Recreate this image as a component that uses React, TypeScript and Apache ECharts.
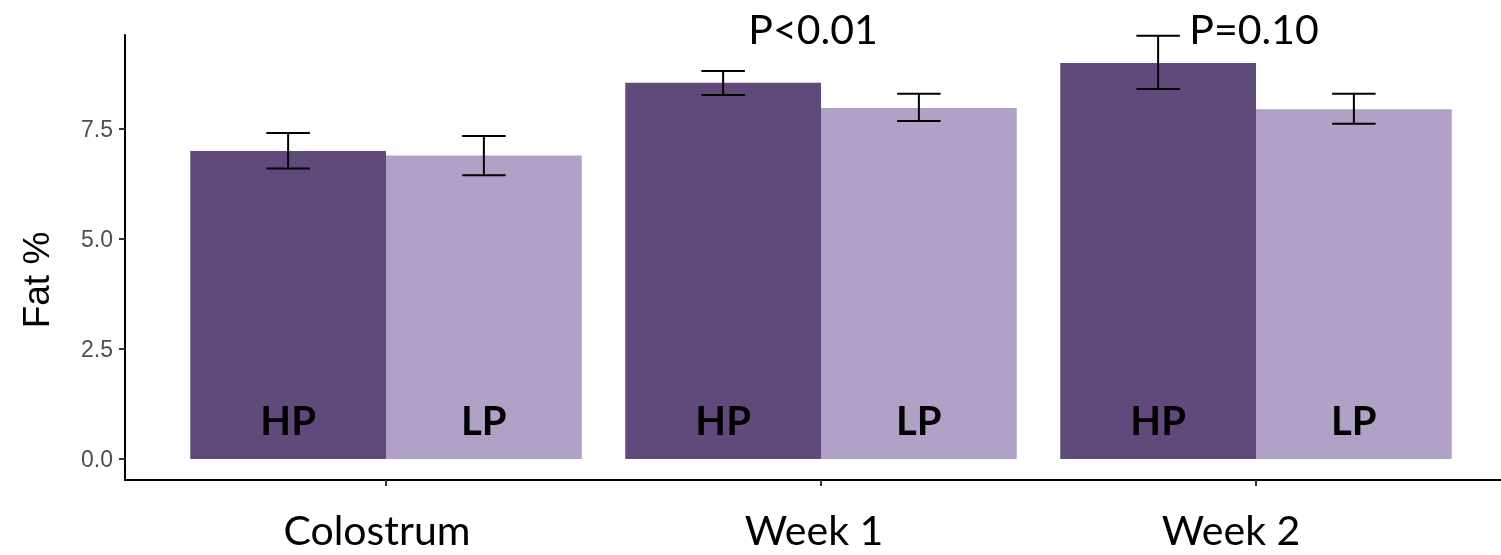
import React, { useEffect, useRef } from 'react';
import * as echarts from 'echarts';

const categories = ['Colostrum', 'Week 1', 'Week 2'];
const groupNames = ['HP', 'LP'];
const hpMean = [7.0, 8.55, 9.0];
const lpMean = [6.9, 7.98, 7.95];
const hpLower = [6.6, 8.27, 8.41];
const hpUpper = [7.41, 8.82, 9.62];
const lpLower = [6.45, 7.68, 7.62];
const lpUpper = [7.34, 8.3, 8.3];
const yTicks = [0, 2.5, 5.0, 7.5];
const catTicks = [0, 1, 2];
const pLabels = ['P<0.01', 'P=0.10'];

const HP_COLOR = '#604A7B';
const LP_COLOR = '#B2A1C7';
const CAL = 'Lato, "Open Sans", sans-serif';
const ARIAL = '"Liberation Sans", Arial, sans-serif';

function barRender(side: number, label: string) {
  return (params: any, api: any) => {
    const x = api.value(0);
    const v = api.value(1);
    const left = side < 0 ? x - 0.45 : x;
    const right = side < 0 ? x : x + 0.45;
    const p0 = api.coord([left, v]);
    const p1 = api.coord([right, 0]);
    return {
      type: 'group',
      children: [
        {
          type: 'rect',
          shape: { x: p0[0], y: p0[1], width: p1[0] - p0[0], height: p1[1] - p0[1] },
          style: { fill: api.visual('color') },
        },
        {
          type: 'text',
          style: {
            text: label,
            x: (p0[0] + p1[0]) / 2,
            y: p1[1] - 39,
            fill: '#000',
            fontSize: 40,
            fontWeight: 'bold',
            fontFamily: CAL,
            align: 'center',
            verticalAlign: 'middle',
          },
        },
      ],
    };
  };
}

function errRender(side: number) {
  return (params: any, api: any) => {
    const x = api.value(0) + side * 0.225;
    const lo = api.coord([x, api.value(1)]);
    const hi = api.coord([x, api.value(2)]);
    const half = api.size([0.05, 0])[0];
    const st = { stroke: '#000', lineWidth: 2 };
    return {
      type: 'group',
      children: [
        { type: 'line', shape: { x1: hi[0], y1: hi[1], x2: lo[0], y2: lo[1] }, style: st },
        { type: 'line', shape: { x1: hi[0] - half, y1: hi[1], x2: hi[0] + half, y2: hi[1] }, style: st },
        { type: 'line', shape: { x1: lo[0] - half, y1: lo[1], x2: lo[0] + half, y2: lo[1] }, style: st },
      ],
    };
  };
}

export default function App() {
  const ref = useRef<HTMLDivElement>(null);
  useEffect(() => {
    if (!ref.current) return;
    const chart = echarts.init(ref.current, undefined, { renderer: 'svg' });
    const base = { fontSize: 41, fontFamily: CAL, color: '#000', lineHeight: 41 };
    const rich: any = {
      c0: { ...base, padding: [0, 18, 0, 0] },
      c1: { ...base, padding: [0, 14, 0, 0] },
      c2: { ...base, padding: [0, 50, 0, 0] },
    };
    chart.setOption({
      animation: false,
      grid: {
        left: 125,
        top: 35,
        width: 1392,
        height: 445,
        containLabel: false,
        outerBoundsMode: 'none',
      },
      xAxis: {
        type: 'value',
        min: -0.6,
        max: 2.6,
        splitLine: { show: false },
        axisLine: { show: true, onZero: false, lineStyle: { color: '#000', width: 2 } },
        axisTick: { show: true, customValues: catTicks, length: 6, lineStyle: { color: '#333', width: 2 } },
        axisLabel: {
          show: true,
          customValues: catTicks,
          margin: 29,
          formatter: (v: number) => `{c${Math.round(v)}|${categories[Math.round(v)]}}`,
          rich,
        },
      },
      yAxis: {
        type: 'value',
        min: -21 / 44,
        max: 424 / 44,
        splitLine: { show: false },
        axisLine: { show: true, onZero: false, lineStyle: { color: '#000', width: 2 } },
        axisTick: { show: true, customValues: yTicks, length: 6, lineStyle: { color: '#333', width: 2 } },
        axisLabel: {
          customValues: yTicks,
          formatter: (v: number) => v.toFixed(1),
          color: '#4D4D4D',
          fontSize: 23,
          fontFamily: ARIAL,
          margin: 12,
        },
      },
      series: [
        {
          name: groupNames[0],
          type: 'custom',
          renderItem: barRender(-1, groupNames[0]),
          itemStyle: { color: HP_COLOR },
          data: hpMean.map((v, i) => [i, v]),
          encode: { x: 0, y: 1 },
        },
        {
          name: groupNames[1],
          type: 'custom',
          renderItem: barRender(1, groupNames[1]),
          itemStyle: { color: LP_COLOR },
          data: lpMean.map((v, i) => [i, v]),
          encode: { x: 0, y: 1 },
        },
        {
          name: 'HP error',
          type: 'custom',
          renderItem: errRender(-1),
          data: hpLower.map((v, i) => [i, v, hpUpper[i]]),
          encode: { x: 0, y: [1, 2] },
          z: 5,
        },
        {
          name: 'LP error',
          type: 'custom',
          renderItem: errRender(1),
          data: lpLower.map((v, i) => [i, v, lpUpper[i]]),
          encode: { x: 0, y: [1, 2] },
          z: 5,
        },
      ],
      graphic: [
        {
          type: 'text',
          x: 36,
          y: 280,
          rotation: Math.PI / 2,
          style: {
            text: 'Fat %',
            fontSize: 37,
            fontFamily: ARIAL,
            fill: '#000',
            align: 'center',
            verticalAlign: 'middle',
          },
        },
        {
          type: 'text',
          x: 813,
          y: 28,
          style: { text: pLabels[0], fontSize: 41, fontFamily: CAL, fill: '#000', align: 'center', verticalAlign: 'middle' },
        },
        {
          type: 'text',
          x: 1254,
          y: 28,
          style: { text: pLabels[1], fontSize: 41, fontFamily: CAL, fill: '#000', align: 'center', verticalAlign: 'middle' },
        },
      ],
    });
    return () => chart.dispose();
  }, []);
  return <div ref={ref} style={{ position: 'fixed', left: 0, top: 0, width: 1501, height: 555 }} />;
}
